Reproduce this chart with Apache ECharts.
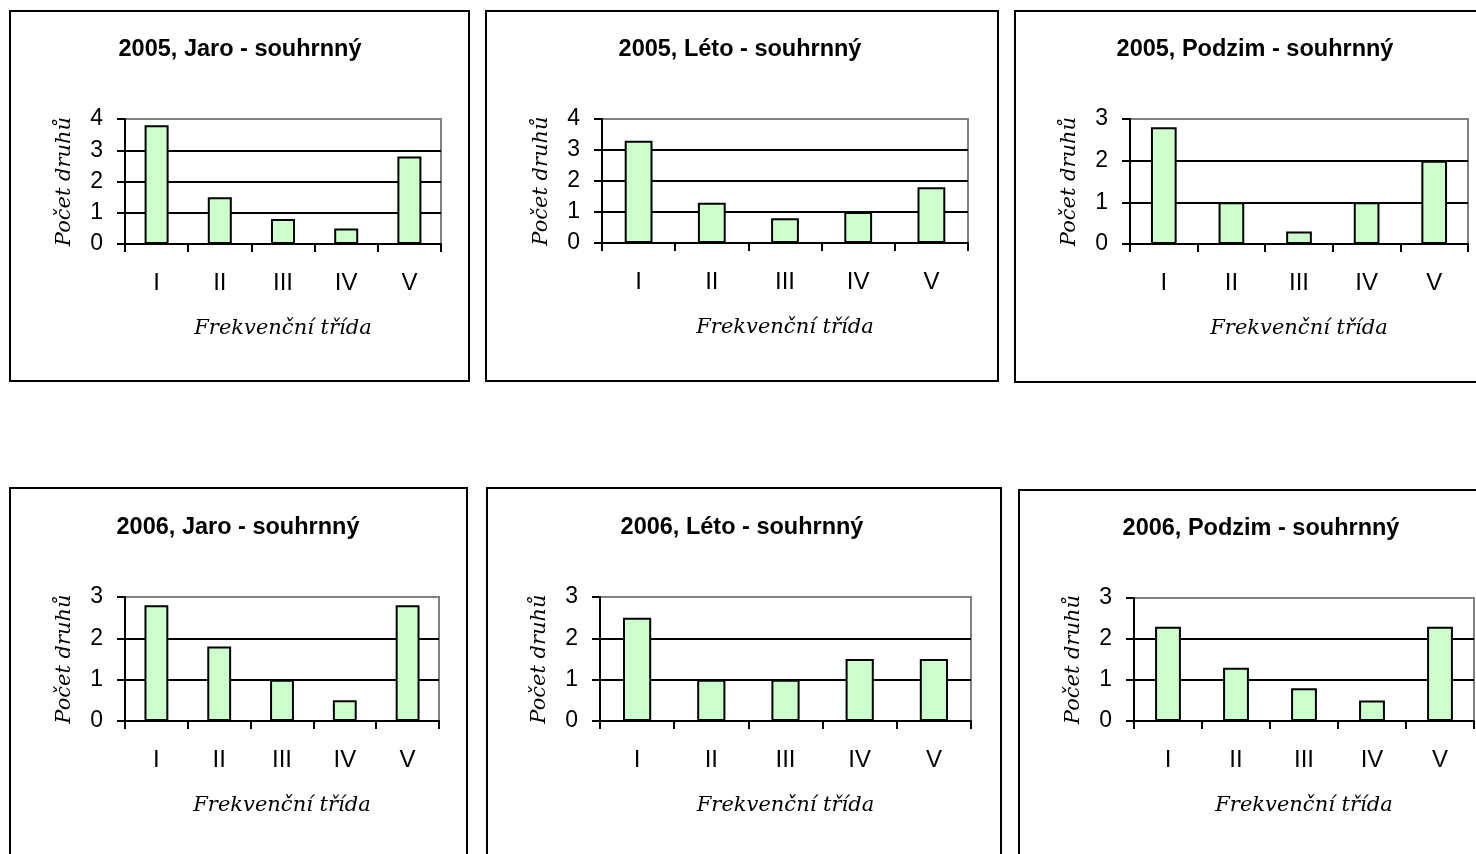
<!DOCTYPE html>
<html>
<head>
<meta charset="utf-8">
<script src="https://cdn.jsdelivr.net/npm/echarts@6/dist/echarts.min.js"></script>
<style>
  html, body { margin: 0; padding: 0; background: #ffffff; }
  #chart { width: 1476px; height: 854px; }
</style>
</head>
<body>
<div id="chart"></div>
<script>
// Počet druhů podle frekvenčních tříd, souhrnně za sezóny 2005 a 2006
const categories = ['I', 'II', 'III', 'IV', 'V'];

const jaro2005   = [3.8, 1.5, 0.8, 0.5, 2.8];
const leto2005   = [3.3, 1.3, 0.8, 1.0, 1.8];
const podzim2005 = [2.8, 1.0, 0.3, 1.0, 2.0];
const jaro2006   = [2.8, 1.8, 1.0, 0.5, 2.8];
const leto2006   = [2.5, 1.0, 1.0, 1.5, 1.5];
const podzim2006 = [2.3, 1.3, 0.8, 0.5, 2.3];

const panelTitles = [
  '2005, Jaro - souhrnný', '2005, Léto - souhrnný', '2005, Podzim - souhrnný',
  '2006, Jaro - souhrnný', '2006, Léto - souhrnný', '2006, Podzim - souhrnný'
];
const yMaxima = [4, 4, 3, 3, 3, 3];
const xAxisName = 'Frekvenční třída';
const yAxisName = 'Počet druhů';

const seriesData = [jaro2005, leto2005, podzim2005, jaro2006, leto2006, podzim2006];

// Layout of the six framed panels: frame rectangle and plot rectangle
const panels = [
  { box: [10, 11, 459, 370],   plot: [125, 119, 316, 125],  titleX: 240,  titleY: 50 },
  { box: [486, 11, 512, 370],  plot: [602, 119, 366, 124],  titleX: 740,  titleY: 50 },
  { box: [1015, 11, 470, 371], plot: [1130, 119, 338, 125], titleX: 1255, titleY: 50 },
  { box: [10, 488, 457, 380],  plot: [125, 597, 314, 124],  titleX: 238,  titleY: 528 },
  { box: [487, 488, 514, 380], plot: [600, 597, 371, 124],  titleX: 742,  titleY: 528 },
  { box: [1019, 490, 470, 380], plot: [1134, 598, 340, 123], titleX: 1261, titleY: 529 }
];

const sans = '"Liberation Sans", Arial, sans-serif';
const serifItalic = '"DejaVu Serif", "Liberation Serif", serif';

const grids = [], xAxes = [], yAxes = [], series = [], graphics = [];

panels.forEach((p, i) => {
  graphics.push({
    type: 'rect',
    shape: { x: p.box[0], y: p.box[1], width: p.box[2], height: p.box[3] },
    style: { fill: null, stroke: '#000000', lineWidth: 2 },
    z: 0
  });
  graphics.push({
    type: 'text',
    x: p.titleX, y: p.titleY,
    style: {
      text: panelTitles[i],
      fill: '#000000',
      font: 'bold 23.5px ' + sans,
      textAlign: 'center',
      textVerticalAlign: 'middle'
    }
  });

  grids.push({
    left: p.plot[0], top: p.plot[1], width: p.plot[2], height: p.plot[3],
    show: true,
    backgroundColor: 'transparent',
    borderColor: '#808080',
    borderWidth: 2
  });

  xAxes.push({
    type: 'category',
    gridIndex: i,
    data: categories,
    boundaryGap: true,
    axisLine: { lineStyle: { color: '#000000', width: 2 } },
    axisTick: { show: true, length: 8, inside: false, alignWithLabel: false,
                lineStyle: { color: '#000000', width: 2 } },
    axisLabel: { margin: 27, color: '#000000', fontSize: 24, fontFamily: sans },
    splitLine: { show: false },
    name: xAxisName,
    nameLocation: 'middle',
    nameGap: 74,
    nameTextStyle: { color: '#000000', fontSize: 21, fontStyle: 'italic', fontFamily: serifItalic }
  });

  yAxes.push({
    type: 'value',
    gridIndex: i,
    min: 0,
    max: yMaxima[i],
    interval: 1,
    axisLine: { show: true, lineStyle: { color: '#000000', width: 2 } },
    axisTick: { show: true, length: 8, inside: false, lineStyle: { color: '#000000', width: 2 } },
    axisLabel: { margin: 22, color: '#000000', fontSize: 23, fontFamily: sans },
    splitLine: { show: true, showMaxLine: false, lineStyle: { color: '#000000', width: 2 } },
    name: yAxisName,
    nameLocation: 'middle',
    nameRotate: 90,
    nameGap: 50,
    nameTextStyle: { color: '#000000', fontSize: 21, fontStyle: 'italic', fontFamily: serifItalic }
  });

  series.push({
    type: 'bar',
    xAxisIndex: i,
    yAxisIndex: i,
    data: seriesData[i],
    barWidth: '38%',
    itemStyle: { color: '#CCFFCC', borderColor: '#000000', borderWidth: 2 },
    silent: true,
    animation: false
  });
});

const chart = echarts.init(document.getElementById('chart'), null, { renderer: 'canvas' });
chart.setOption({
  backgroundColor: '#ffffff',
  animation: false,
  grid: grids,
  xAxis: xAxes,
  yAxis: yAxes,
  series: series,
  graphic: graphics
});
</script>
</body>
</html>
